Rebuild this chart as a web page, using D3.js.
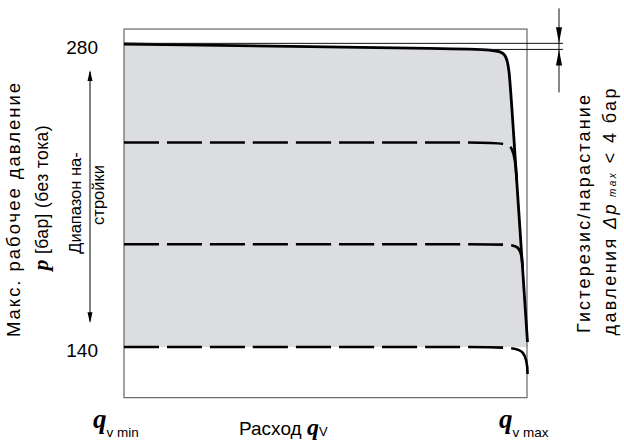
<!DOCTYPE html>
<html>
<head>
<meta charset="utf-8">
<script src="https://cdn.jsdelivr.net/npm/d3@7/dist/d3.min.js"></script>
<style>
  body { margin: 0; background: #fff; }
  svg { display: block; }
</style>
</head>
<body>
<svg id="chart" width="624" height="441" font-family="Liberation Sans, Arial, sans-serif"></svg>
<script>
// ---- data (flow in % of qv min..qv max, pressure in bar) ----
const flowExtent = [0, 100];
const pressureExtent = [116.6, 286.9];
const pressureTicks = [280, 140];

// max. pressure curve (solid) and the adjusted settings (dashed)
const topCurve = [[0, 280], [89.7, 277.6], [95.28, 277.3], [95.81, 262.6], [100.12, 142.3]];
const level1 = [[0, 234.5], [92.5, 234.5], [96.83, 234.5], [97.5, 216]];
const level2 = [[0, 187.5], [93.5, 187.5], [98.52, 187.5], [98.9, 177]];
const level3 = [[0, 140], [93, 140], [100.1, 140], [100.15, 124.3]];

// hysteresis band and adjustment range arrow
const hysteresis = [280.3, 277.5];
const rangeArrow = [268, 151];

// texts
const yTitle = ["Макс. рабочее давление", " [бар] (без тока)"];
const rangeLabel = ["Диапазон на-", "стройки"];
const hystLabel = ["Гистерезис/нарастание", "давления ", "Δp", " max", " < 4 бар"];
const xLabels = ["v min", "Расход ", "V", "v max"];

const SERIF = "Liberation Serif, Times New Roman, serif";

const svg = d3.select("#chart");

const x = d3.scaleLinear().domain(flowExtent).range([124, 527]);
const y = d3.scaleLinear().domain([140, 280]).range([347, 44]);

const line = d3.line()
  .x((d) => x(d[0]))
  .y((d) => y(d[1]))
  .curve(d3.curveBasis);

// gray working area under the curve, down to the lowest setting
svg.append("path")
  .attr("d", line(topCurve) + `L${x(100.12)},${y(140)}L${x(0)},${y(140)}Z`)
  .attr("fill", "#dcdde0");

// frame
svg.append("rect")
  .attr("x", x(flowExtent[0]))
  .attr("y", y(pressureExtent[1]))
  .attr("width", x(flowExtent[1]) - x(flowExtent[0]))
  .attr("height", y(pressureExtent[0]) - y(pressureExtent[1]))
  .attr("fill", "none")
  .attr("stroke", "#666")
  .attr("stroke-width", 1.2);

// dashed settings
[level1, level2, level3].forEach((pts) => {
  svg.append("path")
    .attr("d", line(pts))
    .attr("fill", "none")
    .attr("stroke", "#000")
    .attr("stroke-width", 2.6)
    .attr("stroke-dasharray", "35,8");
});

// solid max curve
svg.append("path")
  .attr("d", line(topCurve))
  .attr("fill", "none")
  .attr("stroke", "#000")
  .attr("stroke-width", 2.8);

// hysteresis extension lines
const arrowX = 559;
svg.append("line")
  .attr("x1", x(0)).attr("x2", 563)
  .attr("y1", y(hysteresis[0])).attr("y2", y(hysteresis[0]))
  .attr("stroke", "#111").attr("stroke-width", 1);
svg.append("line")
  .attr("x1", x(88)).attr("x2", 563)
  .attr("y1", y(hysteresis[1])).attr("y2", y(hysteresis[1]))
  .attr("stroke", "#111").attr("stroke-width", 1);

// hysteresis dimension arrows
const yA = y(hysteresis[0]), yB = y(hysteresis[1]);
svg.append("line")
  .attr("x1", arrowX).attr("x2", arrowX)
  .attr("y1", yA - 35).attr("y2", yB + 43)
  .attr("stroke", "#111").attr("stroke-width", 1);
svg.append("path")
  .attr("d", `M${arrowX - 3},${yA - 16}L${arrowX + 3},${yA - 16}L${arrowX},${yA}Z`
    + `M${arrowX - 3},${yB + 16}L${arrowX + 3},${yB + 16}L${arrowX},${yB}Z`)
  .attr("fill", "#000");

// adjustment range double arrow
const rX = 90, r0 = y(rangeArrow[0]), r1 = y(rangeArrow[1]);
svg.append("line")
  .attr("x1", rX).attr("x2", rX).attr("y1", r0 + 2).attr("y2", r1 - 2)
  .attr("stroke", "#000").attr("stroke-width", 1);
svg.append("path")
  .attr("d", `M${rX},${r0}L${rX + 2.5},${r0 + 11}L${rX - 2.5},${r0 + 11}Z`
    + `M${rX},${r1}L${rX + 2.5},${r1 - 11}L${rX - 2.5},${r1 - 11}Z`)
  .attr("fill", "#000");

// pressure tick labels
const yAxis = svg.append("g")
  .attr("transform", `translate(${x(0)},3)`)
  .call(d3.axisLeft(y).tickValues(pressureTicks).tickSize(0).tickPadding(26));
yAxis.select(".domain").remove();
yAxis.selectAll("text")
  .style("font-family", "Liberation Sans, Arial, sans-serif")
  .style("font-size", "19px")
  .attr("fill", "#000");

// rotated texts; the long ones are spread to the length they have in the original
function vText(tx, ty, size, len) {
  const t = svg.append("text")
    .attr("transform", `translate(${tx},${ty}) rotate(-90)`)
    .attr("text-anchor", "middle")
    .attr("font-size", size);
  if (len) t.attr("textLength", len).attr("lengthAdjust", "spacing");
  return t;
}
vText(20, 210, 18.5, 254).text(yTitle[0]);
const t2 = vText(47.5, 198, 17.5, 145);
t2.append("tspan").attr("font-family", SERIF)
  .attr("font-style", "italic").attr("font-weight", "bold").attr("font-size", 22).text("p");
t2.append("tspan").text(yTitle[1]);
vText(81, 203, 16.5).text(rangeLabel[0]);
vText(104, 195, 16.5).text(rangeLabel[1]);

vText(590, 214, 18, 238).text(hystLabel[0]);
const h2 = vText(616, 212, 18, 247);
h2.append("tspan").text(hystLabel[1]);
h2.append("tspan").attr("font-style", "italic").text(hystLabel[2]);
h2.append("tspan").attr("font-style", "italic").attr("font-size", 10).text(hystLabel[3]);
h2.append("tspan").text(hystLabel[4]);

// flow labels
function qLabel(tx, sub) {
  const t = svg.append("text").attr("x", tx).attr("y", 428);
  t.append("tspan").attr("font-family", SERIF)
    .attr("font-style", "italic").attr("font-weight", "bold").attr("font-size", 27).text("q");
  t.append("tspan").attr("font-size", 13.5).attr("dy", 9).text(sub);
}
qLabel(x(flowExtent[0]) - 31, xLabels[0]);
qLabel(x(flowExtent[1]) - 28, xLabels[3]);

const xt = svg.append("text").attr("x", 239).attr("y", 435).attr("font-size", 19);
xt.append("tspan").text(xLabels[1]);
xt.append("tspan").attr("font-family", SERIF)
  .attr("font-style", "italic").attr("font-weight", "bold").attr("font-size", 24).text("q");
xt.append("tspan").attr("font-size", 13).attr("dy", 1).text(xLabels[2]);
</script>
</body>
</html>
